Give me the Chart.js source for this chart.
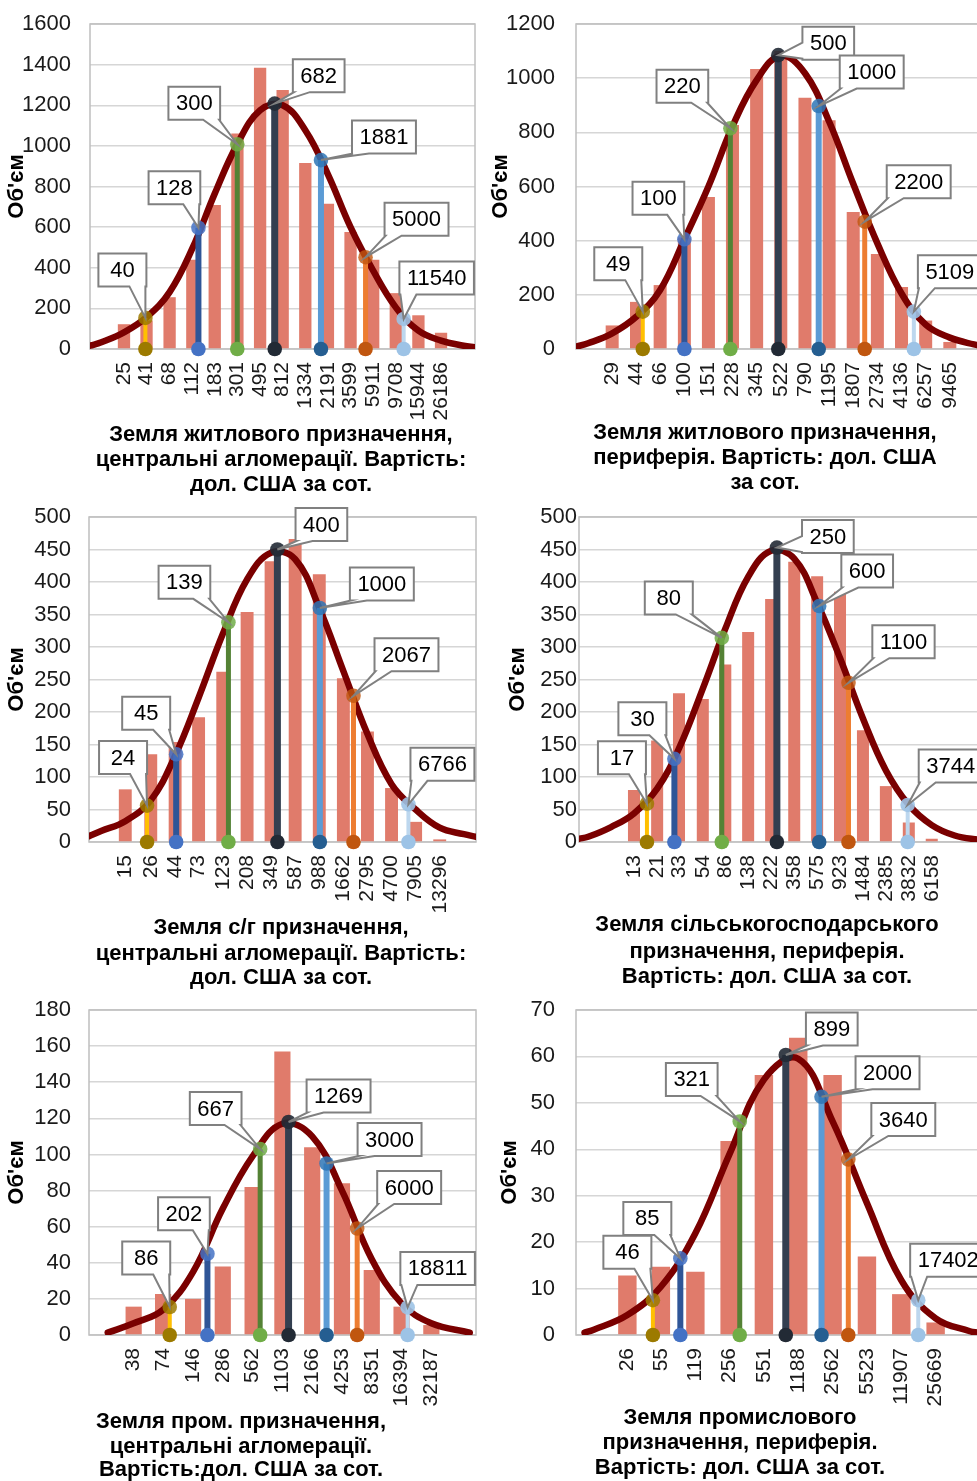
<!DOCTYPE html>
<html>
<head>
<meta charset="utf-8">
<script src="https://cdn.jsdelivr.net/npm/chart.js@4.4.1/dist/chart.umd.min.js"></script>
<style>
  html, body { margin: 0; padding: 0; background: #fff; overflow: hidden; width: 977px; height: 1481px; }
  canvas { position: absolute; }
</style>
</head>
<body>
<script>
const FONT = "'Liberation Sans', Arial, sans-serif";

// panel 1: житлова, центральні агломерації
const cats1 = [25, 41, 68, 112, 183, 301, 495, 812, 1334, 2191, 3599, 5911, 9708, 15944, 26186];
const bars1 = [122, 140, 255, 440, 709, 1061, 1385, 1275, 916, 715, 576, 440, 275, 166, 80];
const curve1 = [82, 156, 280, 495, 765, 1010, 1175, 1200, 1077, 860, 600, 386, 205, 90, 41];
const curveOut1 = [16, 33, 16, 8];
const marks1 = [40, 128, 300, 682, 1881, 5000, 11540];
const tops1 = [153, 597, 1008, 1208, 930, 452, 148];

// panel 2: житлова, периферія
const cats2 = [29, 44, 66, 100, 151, 228, 345, 522, 790, 1195, 1807, 2734, 4136, 6257, 9465];
const bars2 = [87, 174, 236, 412, 561, 827, 1034, 1100, 928, 845, 506, 351, 229, 105, 26];
const curve2 = [58, 120, 218, 405, 600, 822, 993, 1083, 1018, 840, 610, 390, 205, 90, 42];
const curveOut2 = [9, 21, 17, 9];
const marks2 = [49, 100, 220, 500, 1000, 2200, 5109];
const tops2 = [138, 405, 815, 1085, 897, 470, 138];

// panel 3: с/г, центральні агломерації
const cats3 = [15, 26, 44, 73, 123, 208, 349, 587, 988, 1662, 2795, 4700, 7905, 13296];
const bars3 = [81, 135, 154, 192, 262, 354, 432, 466, 412, 252, 170, 83, 31, 4];
const curve3 = [32, 64, 133, 222, 320, 404, 445, 435, 360, 263, 166, 89, 50, 22];
const curveOut3 = [9, 17, 12, 8];
const marks3 = [24, 45, 139, 400, 1000, 2067, 6766];
const tops3 = [56, 135, 338, 450, 360, 225, 58];

// panel 4: с/г, периферія
const cats4 = [13, 21, 33, 54, 86, 138, 222, 358, 575, 923, 1484, 2385, 3832, 6158];
const bars4 = [80, 156, 229, 220, 273, 323, 374, 431, 409, 385, 172, 86, 30, 5];
const curve4 = [44, 82, 144, 236, 328, 408, 448, 436, 368, 283, 190, 110, 57, 26];
const curveOut4 = [5, 8, 23, 10, 4, 3];
const marks4 = [17, 30, 80, 250, 600, 1100, 3744];
const tops4 = [59, 128, 314, 453, 363, 245, 57];

// panel 5: пром., центральні агломерації
const cats5 = [38, 74, 146, 286, 562, 1103, 2166, 4253, 8351, 16394, 32187];
const bars5 = [15.7, 22.7, 20, 38, 82, 157, 104, 84, 36, 15.7, 5.5];
const curve5 = [6.5, 14, 35, 70, 99, 117, 110, 80, 42, 17.5, 6.5];
const curveOut5 = [1.3, 1.3];
const marks5 = [86, 202, 667, 1269, 3000, 6000, 18811];
const tops5 = [15.5, 45, 103, 118, 95, 59, 15.3];

// panel 6: пром., периферія
const cats6 = [26, 55, 119, 256, 551, 1188, 2562, 5523, 11907, 25669];
const bars6 = [12.8, 14.7, 13.6, 41.8, 56, 64, 56, 16.9, 8.8, 2.7];
const curve6 = [4.3, 10.4, 21.9, 39, 55, 59.5, 46, 28.4, 11.8, 3.6];
const curveOut6 = [0.5, 1.1, 0.8, 0.5];
const marks6 = [46, 85, 321, 899, 2000, 3640, 17402];
const tops6 = [7.5, 16.5, 46, 60.3, 51.3, 37.8, 7.5];

// marker styles
const markLine = ['#FFC000', '#2F5597', '#548235', '#333F50', '#5B9BD5', '#ED7D31', '#BDD7EE'];
const markDot = ['#9C7A00', '#4472C4', '#70AD47', '#222A35', '#255E91', '#C0560F', '#9DC3E6'];
const markTopDot = ['rgba(156,122,0,0.85)', 'rgba(68,114,196,0.85)', 'rgba(112,173,71,0.85)', 'rgba(34,42,53,0.9)',
  'rgba(46,117,182,0.85)', 'rgba(192,86,15,0.8)', 'rgba(157,195,230,0.9)'];
const markWidth = [4, 6, 5, 7, 6, 5, 4];

const panels = [
  { cats: cats1, bars: bars1, curve: curve1, out: curveOut1, marks: marks1, tops: tops1,
    box: [0, 0, 490, 495], plot: [90, 24, 475, 349], padL: 1.5, padR: 1.5, outPos: [-1.5, -1, 1, 1.5],
    yMax: 1600, yStep: 200, tickPad: 19, yTitlePad: 6,
    off: [[-23, -48], [-24, -40], [-43, -41], [44, -28], [63, -23], [51, -38], [33, -41]],
    title: ['Земля житлового призначення,', 'центральні агломерації. Вартість:', 'дол. США за сот.'],
    titleX: 281, titleY: [435, 460, 485] },
  { cats: cats2, bars: bars2, curve: curve2, out: curveOut2, marks: marks2, tops: tops2,
    box: [490, 0, 520, 495], plot: [576, 24, 986, 349], padL: 1.5, padR: 1.5, outPos: [-1.5, -1, 1, 1.5],
    yMax: 1200, yStep: 200, tickPad: 21, yTitlePad: 0,
    off: [[-24.5, -48], [-26, -41], [-48, -42], [50, -12], [53, -34], [54, -40], [36, -40]],
    title: ['Земля житлового призначення,', 'периферія. Вартість: дол. США', 'за сот.'],
    titleX: 765, titleY: [433, 458, 483] },
  { cats: cats3, bars: bars3, curve: curve3, out: curveOut3, marks: marks3, tops: tops3,
    box: [0, 495, 490, 495], plot: [89, 517, 476, 842], padL: 1.5, padR: 1.5, outPos: [-1.5, -1, 1, 1.5],
    yMax: 500, yStep: 50, tickPad: 18, yTitlePad: 6,
    off: [[-24, -48], [-30, -41], [-44, -40], [44, -25], [62, -24], [53, -41], [34, -40]],
    title: ['Земля с/г призначення,', 'центральні агломерації. Вартість:', 'дол. США за сот.'],
    titleX: 281, titleY: [928, 954, 978] },
  { cats: cats4, bars: bars4, curve: curve4, out: curveOut4, marks: marks4, tops: tops4,
    box: [490, 495, 520, 495], plot: [579, 517, 989, 842], padL: 2.4, padR: 2.5, outPos: [-2.4, -2, -1, 1, 2, 2.5],
    yMax: 500, yStep: 50, tickPad: 2, yTitlePad: 17,
    off: [[-25, -46], [-32, -40], [-53, -40], [51, -11], [48, -35], [55, -41], [43, -39]],
    title: ['Земля сільськогосподарського', 'призначення, периферія.', 'Вартість: дол. США за сот.'],
    titleX: 767, titleY: [925, 952, 977] },
  { cats: cats5, bars: bars5, curve: curve5, out: curveOut5, marks: marks5, tops: tops5,
    box: [0, 990, 490, 491], plot: [89, 1010, 476, 1335], padL: 1.5, padR: 1.5, outPos: [-0.87, 1.29],
    yMax: 180, yStep: 20, tickPad: 18, yTitlePad: 6,
    off: [[-23.5, -49], [-23.5, -40], [-44.5, -40.5], [50, -26], [63, -24], [52, -41], [30, -39]],
    title: ['Земля пром. призначення,', 'центральні агломерації.', 'Вартість:дол. США за сот.'],
    titleX: 241, titleY: [1422, 1447, 1470] },
  { cats: cats6, bars: bars6, curve: curve6, out: curveOut6, marks: marks6, tops: tops6,
    box: [490, 990, 520, 491], plot: [576, 1010, 987, 1335], padL: 1.5, padR: 1.5, outPos: [-1.25, -1, 1, 1.25],
    yMax: 70, yStep: 10, tickPad: 21, yTitlePad: 9,
    off: [[-25.5, -48], [-33, -40], [-48, -42], [46, -26], [66, -24], [55, -40], [30, -40]],
    title: ['Земля промислового', 'призначення, периферія.', 'Вартість: дол. США за сот.'],
    titleX: 740, titleY: [1418, 1443, 1468] }
];

const frame = {
  id: 'frame',
  beforeDatasetsDraw(chart) {
    const { ctx, chartArea: a } = chart;
    ctx.save();
    ctx.strokeStyle = '#BFBFBF';
    ctx.lineWidth = 1.5;
    ctx.strokeRect(a.left, a.top, a.right - a.left, a.bottom - a.top);
    ctx.restore();
  }
};

const callouts = {
  id: 'callouts',
  afterDatasetsDraw(chart, args, opts) {
    const { ctx, scales: { x, y } } = chart;
    ctx.save();
    ctx.font = '22px ' + FONT;
    opts.marks.forEach((m, i) => {
      const px = x.getPixelForValue(m), py = y.getPixelForValue(opts.tops[i]);
      const cx = px + opts.off[i][0], cy = py + opts.off[i][1];
      const text = String(m);
      const w = Math.max(48, ctx.measureText(text).width + 15), h = 33;
      const l = cx - w / 2, r = cx + w / 2, t = cy - h / 2, b = cy + h / 2;
      ctx.beginPath();
      ctx.moveTo(l, t);
      ctx.lineTo(r, t);
      ctx.lineTo(r, b);
      if (py > b) {
        const bx = Math.min(Math.max(px, l + 9), r - 9);
        ctx.lineTo(bx + 8, b);
        ctx.lineTo(px, py);
        ctx.lineTo(bx - 8, b);
        ctx.lineTo(l, b);
      } else {
        const by = Math.min(Math.max(py, t + 9), b - 9);
        ctx.lineTo(l, b);
        ctx.lineTo(l, by + 8);
        ctx.lineTo(px, py);
        ctx.lineTo(l, by - 8);
      }
      ctx.closePath();
      ctx.fillStyle = '#fff';
      ctx.fill();
      ctx.strokeStyle = '#808080';
      ctx.lineWidth = 2;
      ctx.stroke();
      ctx.fillStyle = '#000';
      ctx.textAlign = 'center';
      ctx.textBaseline = 'middle';
      ctx.fillText(text, cx, cy + 1);
    });
    ctx.restore();
  }
};

const xTitle = {
  id: 'xTitle',
  afterDraw(chart, args, opts) {
    const { ctx } = chart;
    ctx.save();
    ctx.font = 'bold 22px ' + FONT;
    ctx.fillStyle = '#000';
    ctx.textAlign = 'center';
    ctx.textBaseline = 'middle';
    opts.lines.forEach((s, i) => ctx.fillText(s, opts.x, opts.ys[i]));
    ctx.restore();
  }
};

panels.forEach(p => {
  const [bx, by, bw, bh] = p.box;
  const [pl, pt, pr, pb] = p.plot;
  const cv = document.createElement('canvas');
  cv.width = bw; cv.height = bh;
  cv.style.left = bx + 'px'; cv.style.top = by + 'px';
  document.body.appendChild(cv);

  const n = p.cats.length;
  const ratio = Math.pow(p.cats[n - 1] / p.cats[0], 1 / (n - 1));
  const at = s => s < 0 ? p.cats[0] * Math.pow(ratio, s) : p.cats[n - 1] * Math.pow(ratio, s);

  const curvePts = p.cats.map((c, i) => ({ x: c, y: p.curve[i] }));
  p.outPos.forEach((s, j) => curvePts.push({ x: at(s), y: p.out[j] }));
  curvePts.sort((a, b) => a.x - b.x);

  const markSets = p.marks.map((m, i) => ({
    type: 'line',
    data: [{ x: m, y: 0 }, { x: m, y: p.tops[i] }],
    borderColor: markLine[i],
    borderWidth: markWidth[i],
    pointRadius: 7.3,
    pointBorderWidth: 0,
    pointBackgroundColor: [markDot[i], markTopDot[i]],
    clip: false,
    order: 0
  }));

  new Chart(cv, {
    type: 'bar',
    data: {
      datasets: [
        {
          type: 'bar',
          data: p.cats.map((c, i) => ({ x: c, y: p.bars[i] })),
          backgroundColor: '#E07B6B',
          categoryPercentage: 1,
          barPercentage: 0.55,
          order: 3
        },
        {
          type: 'line',
          data: curvePts,
          borderColor: '#7A0000',
          borderWidth: 6.5,
          borderCapStyle: 'round',
          pointRadius: 0,
          fill: false,
          tension: 0.4,
          order: 1
        },
        ...markSets
      ]
    },
    options: {
      responsive: false,
      animation: false,
      devicePixelRatio: 1,
      layout: { padding: { left: 0, top: pt - by, right: bx + bw - pr, bottom: 0 } },
      scales: {
        x: {
          type: 'logarithmic',
          min: at(-p.padL),
          max: at(p.padR),
          offset: false,
          grid: { display: false, drawTicks: false },
          border: { display: false },
          afterBuildTicks: s => { s.ticks = p.cats.map(v => ({ value: v })); },
          afterFit: s => { s.height = by + bh - pb; },
          ticks: {
            autoSkip: false,
            minRotation: 90,
            maxRotation: 90,
            padding: 13,
            color: '#1A1A1A',
            font: { family: FONT, size: 21 },
            callback: (v, i) => String(p.cats[i])
          }
        },
        y: {
          min: 0,
          max: p.yMax,
          grid: { color: '#D6D6D6', lineWidth: 1.5, drawTicks: true, tickLength: p.tickPad, tickColor: 'rgba(0,0,0,0)' },
          border: { display: false },
          afterFit: s => { s.width = pl - bx; },
          ticks: {
            stepSize: p.yStep,
            padding: 0,
            color: '#1A1A1A',
            font: { family: FONT, size: 22 },
            callback: v => String(v)
          },
          title: {
            display: true,
            text: "Об'єм",
            color: '#000',
            padding: { top: p.yTitlePad, bottom: 0 },
            font: { family: FONT, size: 22, weight: 'bold', lineHeight: 1 }
          }
        }
      },
      plugins: {
        legend: { display: false },
        tooltip: { enabled: false },
        callouts: { marks: p.marks, tops: p.tops, off: p.off },
        xTitle: { lines: p.title, x: p.titleX - bx, ys: p.titleY.map(v => v - by) }
      }
    },
    plugins: [frame, callouts, xTitle]
  });
});
</script>
</body>
</html>
